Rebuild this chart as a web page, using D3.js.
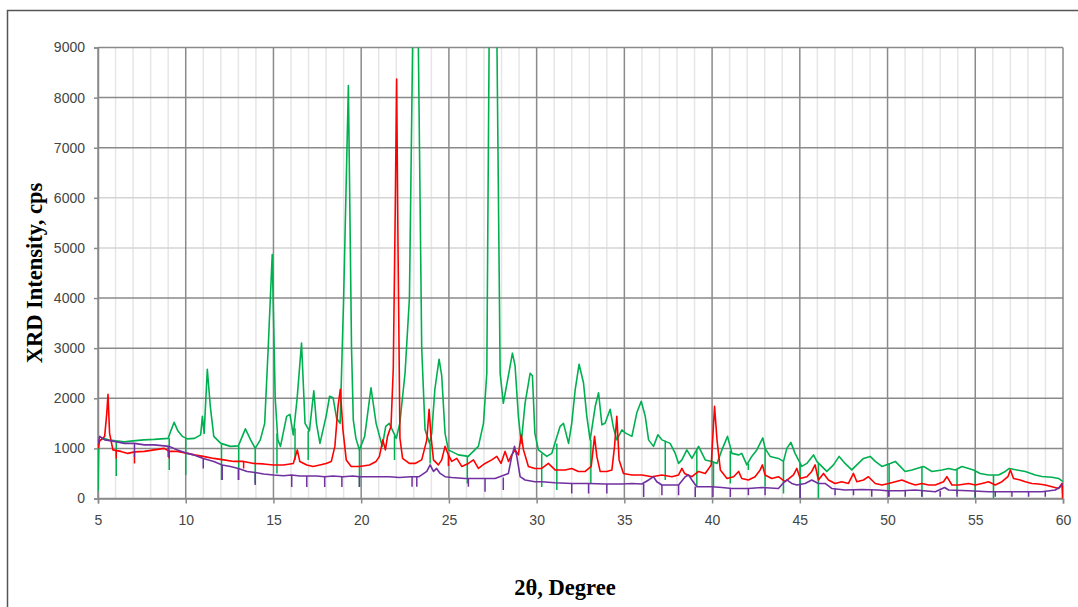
<!DOCTYPE html>
<html>
<head>
<meta charset="utf-8">
<script src="https://cdn.jsdelivr.net/npm/d3@7"></script>
<style>
  body { margin: 0; background: #fff; }
  svg { display: block; }
</style>
</head>
<body>
<svg id="chart" width="1078" height="607"></svg>
<script>
// tick values
var xTicks = [5, 10, 15, 20, 25, 30, 35, 40, 45, 50, 55, 60];
var yTicks = [0, 1000, 2000, 3000, 4000, 5000, 6000, 7000, 8000, 9000];

// series: [2theta, cps]
var green = [[5.0,150],[5.05,1150],[5.3,1200],[5.6,1170],[6.0,1150],[6.5,1130],[7.0,1150],[7.6,1170],[8.2,1180],[8.6,1190],[9.0,1200],[9.15,1350],[9.34,1520],[9.55,1350],[9.8,1240],[10.1,1190],[10.5,1200],[10.85,1270],[10.95,1640],[11.05,1300],[11.23,2580],[11.4,1840],[11.6,1240],[12.0,1100],[12.55,1040],[13.0,1050],[13.4,1390],[13.7,1170],[13.96,1000],[14.25,1170],[14.5,1500],[14.7,3000],[14.93,4870],[15.1,2000],[15.25,1170],[15.4,1040],[15.75,1640],[15.94,1680],[16.13,1270],[16.35,2000],[16.6,3100],[16.8,1500],[17.05,1350],[17.3,2150],[17.45,1500],[17.65,1100],[18.0,1640],[18.2,2040],[18.4,2010],[18.6,1600],[18.8,1500],[19.0,4000],[19.27,8240],[19.45,3000],[19.55,1570],[19.7,1200],[19.9,970],[20.2,1240],[20.56,2210],[20.85,1500],[21.2,1040],[21.4,1440],[21.6,1500],[22.0,1200],[22.2,1500],[22.5,2500],[22.75,4000],[22.93,9000],[23.1,12000],[23.26,9000],[23.45,3000],[23.64,1370],[23.9,1100],[24.02,1300],[24.2,2180],[24.44,2780],[24.59,2450],[24.78,1300],[24.97,970],[25.54,870],[26.1,840],[26.68,1040],[26.97,1500],[27.16,2500],[27.29,9000],[27.5,12000],[27.74,9000],[27.92,2500],[28.1,1900],[28.39,2450],[28.62,2900],[28.77,2650],[28.96,1640],[29.12,1100],[29.34,1900],[29.63,2500],[29.76,2450],[29.9,1300],[30.1,970],[30.58,840],[30.86,900],[31.34,1440],[31.53,1500],[31.82,1100],[32.0,1500],[32.2,2180],[32.42,2680],[32.67,2310],[32.86,1640],[33.05,1170],[33.34,1840],[33.53,2110],[33.72,1470],[33.9,1500],[34.19,1780],[34.38,1410],[34.57,1170],[34.86,1370],[35.05,1310],[35.43,1240],[35.71,1710],[35.96,1940],[36.19,1640],[36.38,1170],[36.66,1040],[36.91,1270],[37.14,1170],[37.61,1100],[37.9,900],[38.09,700],[38.28,770],[38.56,970],[38.85,800],[39.23,1040],[39.61,770],[39.99,740],[40.28,700],[40.56,970],[40.88,1240],[41.13,900],[41.51,870],[41.69,900],[41.98,670],[42.26,840],[42.55,970],[42.89,1210],[43.02,1000],[43.31,840],[43.78,800],[44.07,740],[44.26,1000],[44.49,1120],[44.73,900],[44.92,770],[45.11,640],[45.4,700],[45.78,870],[45.97,740],[46.25,640],[46.54,540],[46.92,670],[47.24,840],[47.58,700],[47.96,570],[48.25,670],[48.63,800],[49.01,840],[49.3,740],[49.68,640],[50.15,700],[50.44,740],[50.72,640],[51.0,540],[51.39,570],[51.67,600],[52.05,640],[52.53,540],[53.1,570],[53.48,600],[53.86,570],[54.24,640],[54.62,600],[54.9,570],[55.28,500],[55.76,470],[56.33,470],[56.71,540],[56.94,600],[57.37,570],[57.85,540],[58.42,470],[58.8,440],[59.37,425],[59.75,400],[60.0,335]];

var red = [[5.0,1000],[5.1,1150],[5.38,1240],[5.5,1700],[5.57,2080],[5.66,1300],[5.85,970],[6.3,940],[6.7,900],[7.08,930],[7.64,940],[8.2,970],[8.77,1000],[9.06,940],[9.53,940],[10.1,900],[10.47,870],[11.0,840],[11.6,800],[12.17,770],[12.74,740],[13.3,740],[13.87,700],[14.43,690],[15.0,670],[15.57,670],[16.13,700],[16.36,970],[16.5,740],[16.9,670],[17.26,640],[17.64,670],[18.0,700],[18.3,740],[18.5,1040],[18.68,1840],[18.81,2180],[18.96,1370],[19.15,770],[19.43,640],[19.9,640],[20.47,670],[20.85,740],[21.04,840],[21.23,1170],[21.38,970],[21.5,1240],[21.7,1440],[21.83,2600],[21.95,6000],[22.02,8370],[22.1,5000],[22.21,1200],[22.36,800],[22.74,700],[23.07,700],[23.45,770],[23.74,1170],[23.87,1780],[23.98,1240],[24.12,770],[24.4,670],[24.59,770],[24.78,1040],[24.97,870],[25.16,740],[25.45,800],[25.73,640],[26.11,700],[26.4,770],[26.68,600],[27.06,700],[27.44,770],[27.73,840],[27.97,700],[28.2,940],[28.4,740],[28.58,870],[28.77,970],[28.96,870],[29.12,1270],[29.25,970],[29.53,640],[29.9,600],[30.29,600],[30.67,700],[31.05,570],[31.62,570],[32.0,600],[32.38,540],[32.77,540],[33.11,640],[33.3,1240],[33.43,840],[33.62,540],[34.0,540],[34.29,570],[34.44,1040],[34.57,1640],[34.7,770],[34.95,500],[35.43,470],[36.0,470],[36.57,435],[37.14,470],[37.71,435],[38.09,470],[38.28,600],[38.43,500],[38.85,435],[39.23,540],[39.61,500],[39.95,670],[40.14,1840],[40.28,1170],[40.47,570],[40.85,400],[41.23,435],[41.51,540],[41.69,400],[42.07,370],[42.45,435],[42.74,570],[42.87,670],[43.02,470],[43.4,400],[43.78,435],[44.16,335],[44.64,470],[44.83,600],[45.02,400],[45.4,435],[45.68,540],[45.87,670],[46.06,370],[46.35,500],[46.63,370],[47.01,300],[47.39,335],[47.77,300],[48.06,500],[48.25,335],[48.63,370],[48.91,435],[49.3,300],[49.68,270],[50.06,300],[50.44,335],[50.82,370],[51.2,315],[51.58,270],[51.96,300],[52.34,270],[52.72,270],[53.19,335],[53.38,435],[53.67,270],[54.05,270],[54.62,300],[55.0,270],[55.38,300],[55.76,335],[56.14,270],[56.52,335],[56.86,435],[57.0,570],[57.18,400],[57.56,370],[57.85,335],[58.23,300],[58.61,290],[58.99,270],[59.37,235],[59.75,200],[59.94,300],[60.0,0]];

var purple = [[5.0,1100],[5.1,1240],[5.38,1170],[5.94,1140],[6.5,1100],[7.08,1100],[7.64,1070],[8.2,1070],[8.77,1050],[9.06,1040],[9.53,970],[10.1,900],[10.47,870],[11.0,800],[11.6,740],[12.08,670],[12.55,640],[13.0,600],[13.5,540],[13.96,520],[14.43,490],[15.0,470],[15.57,455],[16.04,470],[16.5,450],[17.45,450],[17.92,435],[18.4,450],[18.96,435],[19.53,450],[19.9,435],[20.47,435],[21.04,435],[21.6,435],[22.17,420],[22.83,435],[23.3,435],[23.45,470],[23.74,540],[23.93,670],[24.12,540],[24.3,600],[24.5,500],[24.78,435],[25.16,420],[25.92,400],[26.87,400],[27.63,400],[28.39,500],[28.58,840],[28.74,1040],[28.87,840],[29.06,435],[29.34,370],[29.9,335],[30.29,335],[31.05,315],[32.0,300],[32.96,300],[33.9,290],[34.86,290],[35.43,300],[36.0,290],[36.38,370],[36.66,435],[36.85,335],[37.14,270],[37.52,270],[38.09,270],[38.47,435],[38.66,470],[38.85,370],[39.13,235],[39.61,235],[39.99,235],[40.56,220],[41.13,200],[41.8,200],[42.07,200],[42.83,220],[43.78,200],[44.07,315],[44.26,370],[44.54,300],[44.83,270],[45.3,300],[45.68,370],[46.06,300],[46.44,300],[46.82,200],[47.58,170],[48.53,180],[49.49,170],[49.96,155],[50.82,155],[51.58,170],[52.72,135],[53.25,220],[53.48,170],[54.62,155],[55.76,135],[56.9,135],[57.85,135],[58.8,135],[59.56,170],[59.85,235],[60.0,300]];

// detector dropouts: [2theta, from, down to]
var greenDips = [[6.04,1150,450],[9.06,1200,570],[10.0,1190,470],[12.04,1080,370],[13.02,1050,370],[13.96,1000,300],[15.2,1300,500],[16.23,1400,770],[16.98,1350,770],[19.9,970,230],[21.9,1250,770],[23.93,1100,700],[26.05,850,300],[30.29,900,230],[31.15,1100,170],[33.09,1170,300],[37.33,1150,370],[39.13,1000,235],[40.08,740,235],[41.04,950,300],[42.07,700,570],[43.02,1000,235],[44.07,740,100],[45.02,700,0],[46.06,700,0],[50.09,700,35],[51.96,640,35],[53.96,570,100],[55.0,570,0],[56.04,470,0]];
var redDips = [[6.04,950,800],[7.08,930,700],[9.05,950,800],[13.3,740,600],[24.97,870,650],[59.97,250,0]];
var purpleDips = [[7.08,1100,830],[9.0,1040,830],[11.0,800,600],[12.08,670,370],[13.0,600,370],[13.96,520,270],[16.04,470,230],[16.9,450,230],[17.92,435,230],[18.9,435,230],[19.9,435,230],[22.9,435,235],[23.17,435,235],[26.11,400,235],[27.06,400,135],[28.1,420,170],[32.0,300,100],[32.96,300,100],[34.0,290,100],[36.1,290,30],[37.14,270,65],[38.09,270,65],[39.04,235,30],[40.05,235,30],[41.04,200,30],[42.07,200,65],[43.02,220,65],[45.02,270,0],[47.01,200,65],[48.06,170,65],[49.1,175,35],[50.06,155,35],[51.01,155,35],[51.96,160,35],[53.0,150,35],[53.96,160,35],[55.0,150,35],[56.14,135,35],[57.09,135,35],[58.04,135,35],[58.99,135,35]];

var svg = d3.select("#chart");
var plotLeft = 98, plotRight = 1063, plotTop = 47.5, plotBottom = 498.5;

var x = d3.scaleLinear().domain([5, 60]).range([plotLeft, plotRight]);
var y = d3.scaleLinear().domain([0, 9000]).range([plotBottom, plotTop]);

// outer frame
svg.append("rect")
    .attr("x", 7.5).attr("y", 10.5)
    .attr("width", 1090).attr("height", 620)
    .attr("fill", "none")
    .attr("stroke", "#555")
    .attr("stroke-width", 1.5);

// minor vertical grid, every degree
svg.append("g")
    .selectAll("line")
    .data(d3.range(6, 60).filter(d => d % 5 !== 0))
    .enter().append("line")
    .attr("x1", d => x(d)).attr("x2", d => x(d))
    .attr("y1", plotTop).attr("y2", plotBottom)
    .attr("stroke", "#e6e6e6")
    .attr("stroke-width", 1.5);

// horizontal grid
svg.append("g")
    .selectAll("line")
    .data(yTicks)
    .enter().append("line")
    .attr("x1", plotLeft).attr("x2", plotRight)
    .attr("y1", d => y(d)).attr("y2", d => y(d))
    .attr("stroke", d => (d === 5000 || d === 6000) ? "#d4d4d4" : "#8a8a8a")
    .attr("stroke-width", 1.5);

// major vertical grid
svg.append("g")
    .selectAll("line")
    .data(xTicks)
    .enter().append("line")
    .attr("x1", d => x(d)).attr("x2", d => x(d))
    .attr("y1", plotTop).attr("y2", plotBottom)
    .attr("stroke", "#8a8a8a")
    .attr("stroke-width", 1.5);

// axes
var yAxis = d3.axisLeft(y).tickValues(yTicks).tickSize(4).tickPadding(9).tickFormat(d => d);
var xAxis = d3.axisBottom(x).tickValues(xTicks).tickSize(5).tickPadding(12).tickFormat(d => d);

svg.append("g").attr("transform", "translate(" + plotLeft + ",0)").call(yAxis)
    .call(g => g.select(".domain").attr("stroke", "#8a8a8a").attr("stroke-width", 1.5));
svg.append("g").attr("transform", "translate(0," + plotBottom + ")").call(xAxis)
    .call(g => g.select(".domain").attr("stroke", "#8a8a8a").attr("stroke-width", 1.5));

svg.selectAll(".tick line").attr("stroke", "#8a8a8a").attr("stroke-width", 1.5);
svg.selectAll(".tick text")
    .style("font-family", "'Liberation Sans', Arial, sans-serif")
    .style("font-size", "14px")
    .attr("fill", "#444");

// clip for the off-scale peaks
svg.append("clipPath").attr("id", "plot-clip")
    .append("rect")
    .attr("x", plotLeft).attr("y", plotTop)
    .attr("width", plotRight - plotLeft).attr("height", plotBottom - plotTop);

var body = svg.append("g").attr("clip-path", "url(#plot-clip)");

var line = d3.line().x(d => x(d[0])).y(d => y(d[1]));

var series = [
    { data: green, dips: greenDips, color: "#00b050" },
    { data: red, dips: redDips, color: "#ff0000" },
    { data: purple, dips: purpleDips, color: "#7030a0" }
];

series.forEach(function (s) {
    body.append("path")
        .datum(s.data)
        .attr("d", line)
        .attr("fill", "none")
        .attr("stroke", s.color)
        .attr("stroke-width", 1.6)
        .attr("stroke-linejoin", "round");

    body.append("g")
        .selectAll("line")
        .data(s.dips)
        .enter().append("line")
        .attr("x1", d => x(d[0])).attr("x2", d => x(d[0]))
        .attr("y1", d => y(d[1])).attr("y2", d => y(d[2]))
        .attr("stroke", s.color)
        .attr("stroke-width", 1.5);
});

// axis titles
svg.append("text")
    .attr("transform", "translate(37,273) rotate(-90)")
    .attr("text-anchor", "middle")
    .attr("dominant-baseline", "middle")
    .style("font-family", "'Liberation Serif', serif")
    .style("font-weight", "bold")
    .style("font-size", "22.5px")
    .text("XRD Intensity, cps");

svg.append("text")
    .attr("x", 565).attr("y", 595)
    .attr("text-anchor", "middle")
    .style("font-family", "'Liberation Serif', serif")
    .style("font-weight", "bold")
    .style("font-size", "22.5px")
    .text("2θ, Degree");
</script>
</body>
</html>
